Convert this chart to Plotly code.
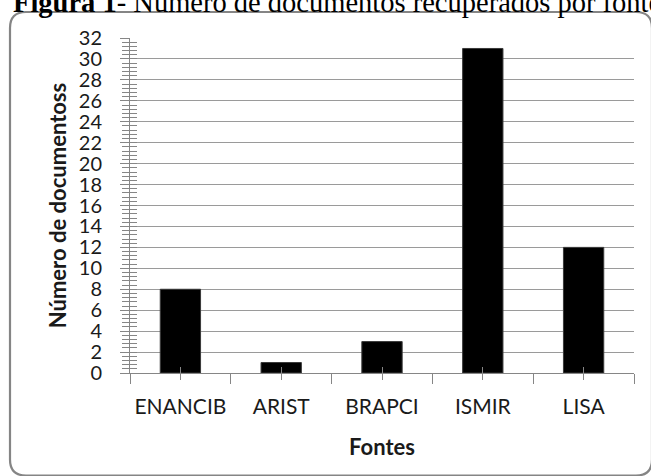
import plotly.graph_objects as go

categories = ["ENANCIB", "ARIST", "BRAPCI", "ISMIR", "LISA"]
values = [8, 1, 3, 31, 12]
y_tick_values = list(range(0, 33, 2))
title_bold = "Figura 1"
title_rest = "- Número de documentos recuperados por fonte"
x_title = "Fontes"
y_title = "Número de documentoss"

W, H = 651, 476
L, R, T, B = 130, 17, 38, 103
PW, PH = W - L - R, H - T - B

def px(x):
    return (x - L) / PW

def py(y):
    return (H - B - y) / PH

def rounded_box(x0, y0, x1, y1, r):
    pts = [
        f"M {px(x0 + r)},{py(y0)}",
        f"L {px(x1 - r)},{py(y0)}",
        f"Q {px(x1)},{py(y0)} {px(x1)},{py(y0 + r)}",
        f"L {px(x1)},{py(y1 - r)}",
        f"Q {px(x1)},{py(y1)} {px(x1 - r)},{py(y1)}",
        f"L {px(x0 + r)},{py(y1)}",
        f"Q {px(x0)},{py(y1)} {px(x0)},{py(y1 - r)}",
        f"L {px(x0)},{py(y0 + r)}",
        f"Q {px(x0)},{py(y0)} {px(x0 + r)},{py(y0)}",
        "Z",
    ]
    return " ".join(pts)

idx = list(range(len(categories)))
AX = "#868686"
GRID = "#9a9a9a"
FONT = "Lato"
TXT = "#1a1a1a"

fig = go.Figure()
fig.add_trace(go.Bar(
    x=categories, y=values,
    marker=dict(color="#000000", line=dict(color="#3a3a3a", width=1)),
    hoverinfo="x+y",
))
# invisible helper traces so overlay axes (crossing tick marks) render
fig.add_trace(go.Scatter(x=idx, y=values, xaxis="x2", yaxis="y", mode="markers",
                         marker=dict(opacity=0), hoverinfo="skip", showlegend=False))
fig.add_trace(go.Scatter(x=idx, y=values, xaxis="x3", yaxis="y", mode="markers",
                         marker=dict(opacity=0), hoverinfo="skip", showlegend=False))
fig.add_trace(go.Scatter(x=categories, y=values, xaxis="x", yaxis="y2", mode="markers",
                         marker=dict(opacity=0), hoverinfo="skip", showlegend=False))

fig.update_layout(
    width=W, height=H,
    margin=dict(l=L, r=R, t=T, b=B, pad=0, autoexpand=False),
    paper_bgcolor="white", plot_bgcolor="white",
    showlegend=False,
    bargap=0.6,
    font=dict(family=FONT, size=20, color=TXT),
    xaxis=dict(
        type="category", tickson="boundaries", ticks="outside", ticklen=10,
        tickcolor=AX, tickwidth=1, showline=True, linecolor=AX, linewidth=1,
        showgrid=False, tickfont=dict(family=FONT, size=21, color=TXT),
        tickangle=0, automargin=False,
        ticklabelstandoff=15,
        title=dict(text=f"<b>{x_title}</b>", font=dict(family=FONT, size=22, color=TXT), standoff=22),
        range=[-0.5, 4.5],
    ),
    xaxis2=dict(overlaying="x", anchor="y", range=[-0.5, 4.5], tickvals=idx,
                showticklabels=False, ticks="inside", ticklen=6, tickcolor=AX,
                showgrid=False, showline=False, zeroline=False, automargin=False),
    xaxis3=dict(overlaying="x", anchor="y", range=[-0.5, 4.5], tickvals=idx,
                showticklabels=False, ticks="outside", ticklen=6, tickcolor=AX,
                showgrid=False, showline=False, zeroline=False, automargin=False),
    yaxis=dict(
        range=[0, 32], tickvals=y_tick_values, ticks="outside", ticklen=9,
        tickcolor=AX, showline=True, linecolor=AX, linewidth=1,
        showgrid=True, gridcolor=GRID, gridwidth=1, zeroline=False,
        minor=dict(dtick=0.4, ticks="outside", ticklen=7, tickcolor=AX, showgrid=False),
        tickfont=dict(family=FONT, size=20, color=TXT), ticklabelstandoff=14,
        automargin=False,
        title=dict(text=f"<b>{y_title}</b>", font=dict(family=FONT, size=22, color=TXT), standoff=6),
    ),
    yaxis2=dict(
        overlaying="y", anchor="x", side="left", range=[0, 32], tickvals=y_tick_values,
        showticklabels=False, ticks="inside", ticklen=7, tickcolor=AX,
        showgrid=False, showline=False, zeroline=False, automargin=False,
        minor=dict(dtick=0.4, ticks="inside", ticklen=7, tickcolor=AX, showgrid=False),
    ),
    shapes=[dict(type="path", xref="paper", yref="paper",
                 path=rounded_box(10, 12, 652, 475.5, 16),
                 line=dict(color="#858585", width=2.2), layer="below")],
    annotations=[dict(
        xref="paper", yref="paper", x=px(11), y=py(20), xanchor="left", yanchor="bottom",
        text=f"<b>{title_bold}</b>{title_rest}", showarrow=False,
        font=dict(family="Liberation Serif", size=28.5, color="#000000"),
    )],
)

fig.write_html("out.html")
